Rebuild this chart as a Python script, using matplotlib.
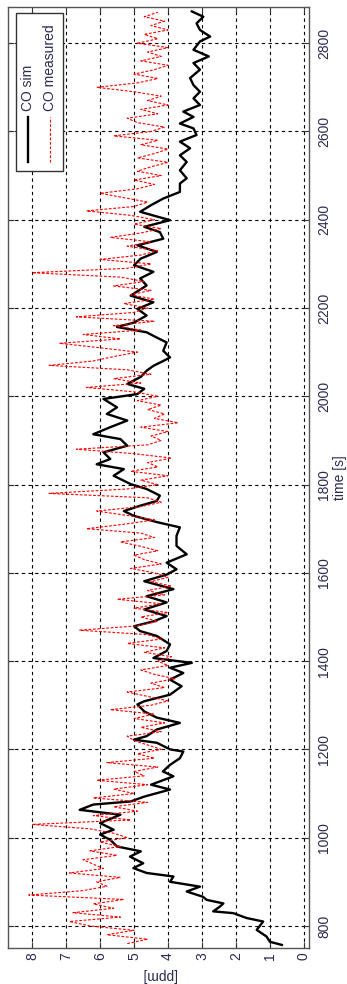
import matplotlib
matplotlib.use("Agg")
import matplotlib.pyplot as plt
from matplotlib.patches import Rectangle

# simulated CO (black) - time [s], value [ppm]
sim_t = [757, 764, 776, 791, 810, 818, 829, 833, 844, 851, 859, 866, 878, 889, 900,
         912, 920, 931, 942, 957, 969, 980, 995, 1007, 1018, 1033, 1052, 1063, 1075, 1082,
         1093, 1109, 1120, 1139, 1150, 1165, 1180, 1195, 1200, 1215, 1222, 1230, 1245, 1260,
         1272, 1286, 1302, 1309, 1324, 1343, 1358, 1373, 1385, 1396, 1407, 1423, 1438, 1457,
         1468, 1479, 1490, 1502, 1517, 1533, 1547, 1563, 1581, 1596, 1608, 1623, 1642, 1661,
         1684, 1703, 1715, 1729, 1740, 1752, 1763, 1775, 1790, 1801, 1820, 1835, 1846, 1858,
         1873, 1888, 1903, 1914, 1930, 1945, 1960, 1975, 1994, 2005, 2017, 2028, 2044, 2058,
         2069, 2080, 2088, 2103, 2122, 2133, 2145, 2157, 2167, 2183, 2198, 2213, 2228, 2251,
         2267, 2282, 2297, 2312, 2327, 2342, 2357, 2372, 2384, 2399, 2418, 2433, 2448, 2463,
         2482, 2494, 2512, 2531, 2546, 2562, 2577, 2592, 2607, 2618, 2633, 2645, 2660, 2675,
         2690, 2705, 2721, 2740, 2755, 2770, 2785, 2804, 2815, 2830, 2845, 2860, 2872]
sim_ppm = [0.65, 1.0, 1.1, 1.39, 1.2, 1.69, 2.08, 2.67, 2.47, 2.37, 2.86, 2.97, 3.45, 3.06, 3.94,
           3.84, 4.63, 5.02, 4.73, 5.12, 4.8, 5.5, 5.7, 6.0, 5.6, 6.0, 5.4, 6.6, 6.2, 5.1,
           4.7, 3.94, 4.5, 3.84, 4.15, 3.94, 3.65, 3.55, 3.94, 4.33, 5.0, 4.63, 4.33, 3.65,
           4.33, 4.7, 4.9, 4.7, 3.94, 3.6, 3.94, 3.55, 3.94, 3.3, 4.43, 4.04, 3.94, 4.33,
           4.82, 5.0, 4.43, 4.04, 4.7, 4.04, 4.63, 3.84, 4.7, 4.04, 3.75, 4.04, 3.45, 3.75,
           3.75, 3.65, 4.33, 5.0, 5.3, 4.82, 4.33, 4.24, 4.63, 5.1, 5.6, 5.3, 6.1, 5.7,
           5.9, 5.2, 5.4, 6.2, 5.7, 5.2, 5.8, 5.5, 5.9, 4.9, 4.7, 5.2, 4.8, 4.63,
           4.43, 4.14, 3.94, 4.14, 4.04, 4.33, 4.63, 5.5, 5.0, 4.63, 4.9, 4.43, 5.1, 4.63,
           4.82, 4.43, 5.0, 4.8, 4.33, 4.9, 4.14, 4.24, 4.7, 3.94, 4.82, 4.5, 4.14, 3.65,
           3.65, 3.45, 3.65, 3.45, 3.65, 3.35, 3.65, 3.16, 3.25, 3.65, 3.25, 3.55, 3.06, 3.25,
           3.06, 3.25, 3.35, 3.06, 3.25, 2.8, 3.25, 3.06, 2.76, 3.06, 3.16, 2.96, 3.3]

# measured CO (red), one sample every 10 s starting at 760 s
meas_t0 = 760
meas_dt = 10
meas_ppm = [5.2, 4.6, 5.8, 5.0, 6.3, 6.9, 5.4, 6.8, 5.6, 6.2, 5.3, 8.1, 6.5, 5.8, 6.1,
            5.4, 6.9, 5.9, 6.2, 6.5, 5.5, 6.3, 5.4, 6.0, 5.2,
            5.6, 6.3, 8.0, 5.1, 6.2, 4.9, 5.6, 4.6, 6.2, 5.0,
            5.6, 4.6, 6.1, 4.7, 5.0, 4.3, 5.8, 4.4, 4.9, 4.2,
            4.6, 5.0, 5.2, 4.2, 4.8, 4.1, 5.0, 4.4, 5.7, 4.5,
            4.0, 4.6, 5.2, 4.1, 4.5, 3.8, 4.4, 4.8, 4.0, 4.3,
            3.9, 4.7, 4.1, 5.2, 4.2, 4.6, 6.6, 4.9, 4.3, 4.8,
            4.0, 5.0, 4.2, 5.5, 4.1, 4.6, 3.9, 4.5, 4.0, 4.4,
            5.1, 4.2, 4.7, 5.0, 4.3, 4.8, 5.4, 4.4, 4.8, 6.4,
            5.3, 4.4, 5.2, 6.1, 4.8, 4.2, 4.6, 7.5, 5.2, 4.3,
            4.8, 4.0, 5.1, 4.3, 4.6, 3.9, 5.0, 6.7, 4.6, 4.2,
            4.5, 4.0, 4.8, 3.7, 4.4, 4.1, 4.6, 4.2, 4.9, 4.3,
            5.0, 6.4, 4.8, 5.6, 4.5, 5.2, 7.5, 6.2, 5.6, 4.9,
            6.0, 7.2, 5.4, 6.5, 4.8, 5.6, 4.4, 6.7, 5.0, 4.6,
            5.3, 4.4, 5.1, 4.5, 5.6, 4.7, 5.4, 8.0, 5.2, 4.5,
            6.0, 4.8, 4.3, 5.2, 4.5, 5.7, 4.8, 4.2, 5.0, 4.4,
            5.1, 6.4, 5.0, 4.6, 5.3, 6.0, 4.9, 4.4, 5.0, 4.2,
            4.9, 4.5, 4.0, 4.9, 4.4, 4.0, 4.8, 4.3, 5.6, 4.5,
            4.1, 4.9, 5.2, 4.3, 4.8, 4.0, 4.6, 4.2, 5.0, 6.1,
            4.9, 4.3, 5.0, 4.4, 4.0, 4.8, 4.2, 4.6, 4.0, 4.9,
            4.3, 4.7, 4.0, 4.5, 4.1, 4.7, 4.3]
meas_t = [meas_t0 + i * meas_dt for i in range(len(meas_ppm))]

ppm_ticks = [0, 1, 2, 3, 4, 5, 6, 7, 8]
time_ticks = [800, 1000, 1200, 1400, 1600, 1800, 2000, 2200, 2400, 2600, 2800]

txt_col = "#2a2a50"
plt.rcParams["font.family"] = ["Liberation Sans", "DejaVu Sans"]
plt.rcParams["font.size"] = 10

fig = plt.figure(figsize=(3.47, 9.84), dpi=100)
ax = fig.add_axes([8 / 347, 1 - 948 / 984, 301 / 347, 941 / 984])

# chart is drawn turned by 90 degrees: time runs upward, ppm runs to the left
ax.plot(sim_ppm, sim_t, color="black", lw=1.7, zorder=3)
ax.plot(meas_ppm, meas_t, color="red", lw=0.8, ls=(0, (2.5, 1.5)), zorder=4)

ax.set_xlim(8.71, -0.15)
ax.set_ylim(750, 2882)
ax.set_xticks(ppm_ticks)
ax.set_yticks(time_ticks)
ax.yaxis.tick_right()
ax.tick_params(direction="in", length=4, color="#333333", labelcolor=txt_col,
               top=True, bottom=True, left=True, right=True)
ax.tick_params(axis="x", pad=3, labelrotation=90)
ax.tick_params(axis="y", pad=6, labelrotation=90)
for lab in ax.get_yticklabels():
    lab.set_va("center")
ax.grid(True, color="black", lw=0.8, ls=(0, (3, 3)))
for s in ax.spines.values():
    s.set_color("#555555")
    s.set_linewidth(1.0)

# axis titles, placed by hand
ax.text(0.5, -0.0285, "[ppm]", transform=ax.transAxes, rotation=180,
        ha="center", va="center", color=txt_col)
ax.text(1.103, 0.5, "time [s]", transform=ax.transAxes, rotation=90,
        ha="center", va="center", color=txt_col)

# legend box, turned like the rest of the chart
ax.add_patch(Rectangle((0.0266, 0.826), 0.157, 0.1676, transform=ax.transAxes,
                       facecolor="white", edgecolor="#333333", lw=1.0, zorder=5))
ax.plot([0.066, 0.066], [0.835, 0.883], transform=ax.transAxes, color="black", lw=1.7, zorder=6)
ax.plot([0.140, 0.140], [0.835, 0.883], transform=ax.transAxes, color="red", lw=0.8,
        ls=(0, (2.5, 1.5)), zorder=6)
ax.text(0.066, 0.890, "CO sim", transform=ax.transAxes, rotation=90, ha="center",
        va="bottom", color=txt_col, zorder=6)
ax.text(0.140, 0.890, "CO measured", transform=ax.transAxes, rotation=90, ha="center",
        va="bottom", color=txt_col, zorder=6)

fig.savefig("out.png", dpi=100, facecolor="white")
